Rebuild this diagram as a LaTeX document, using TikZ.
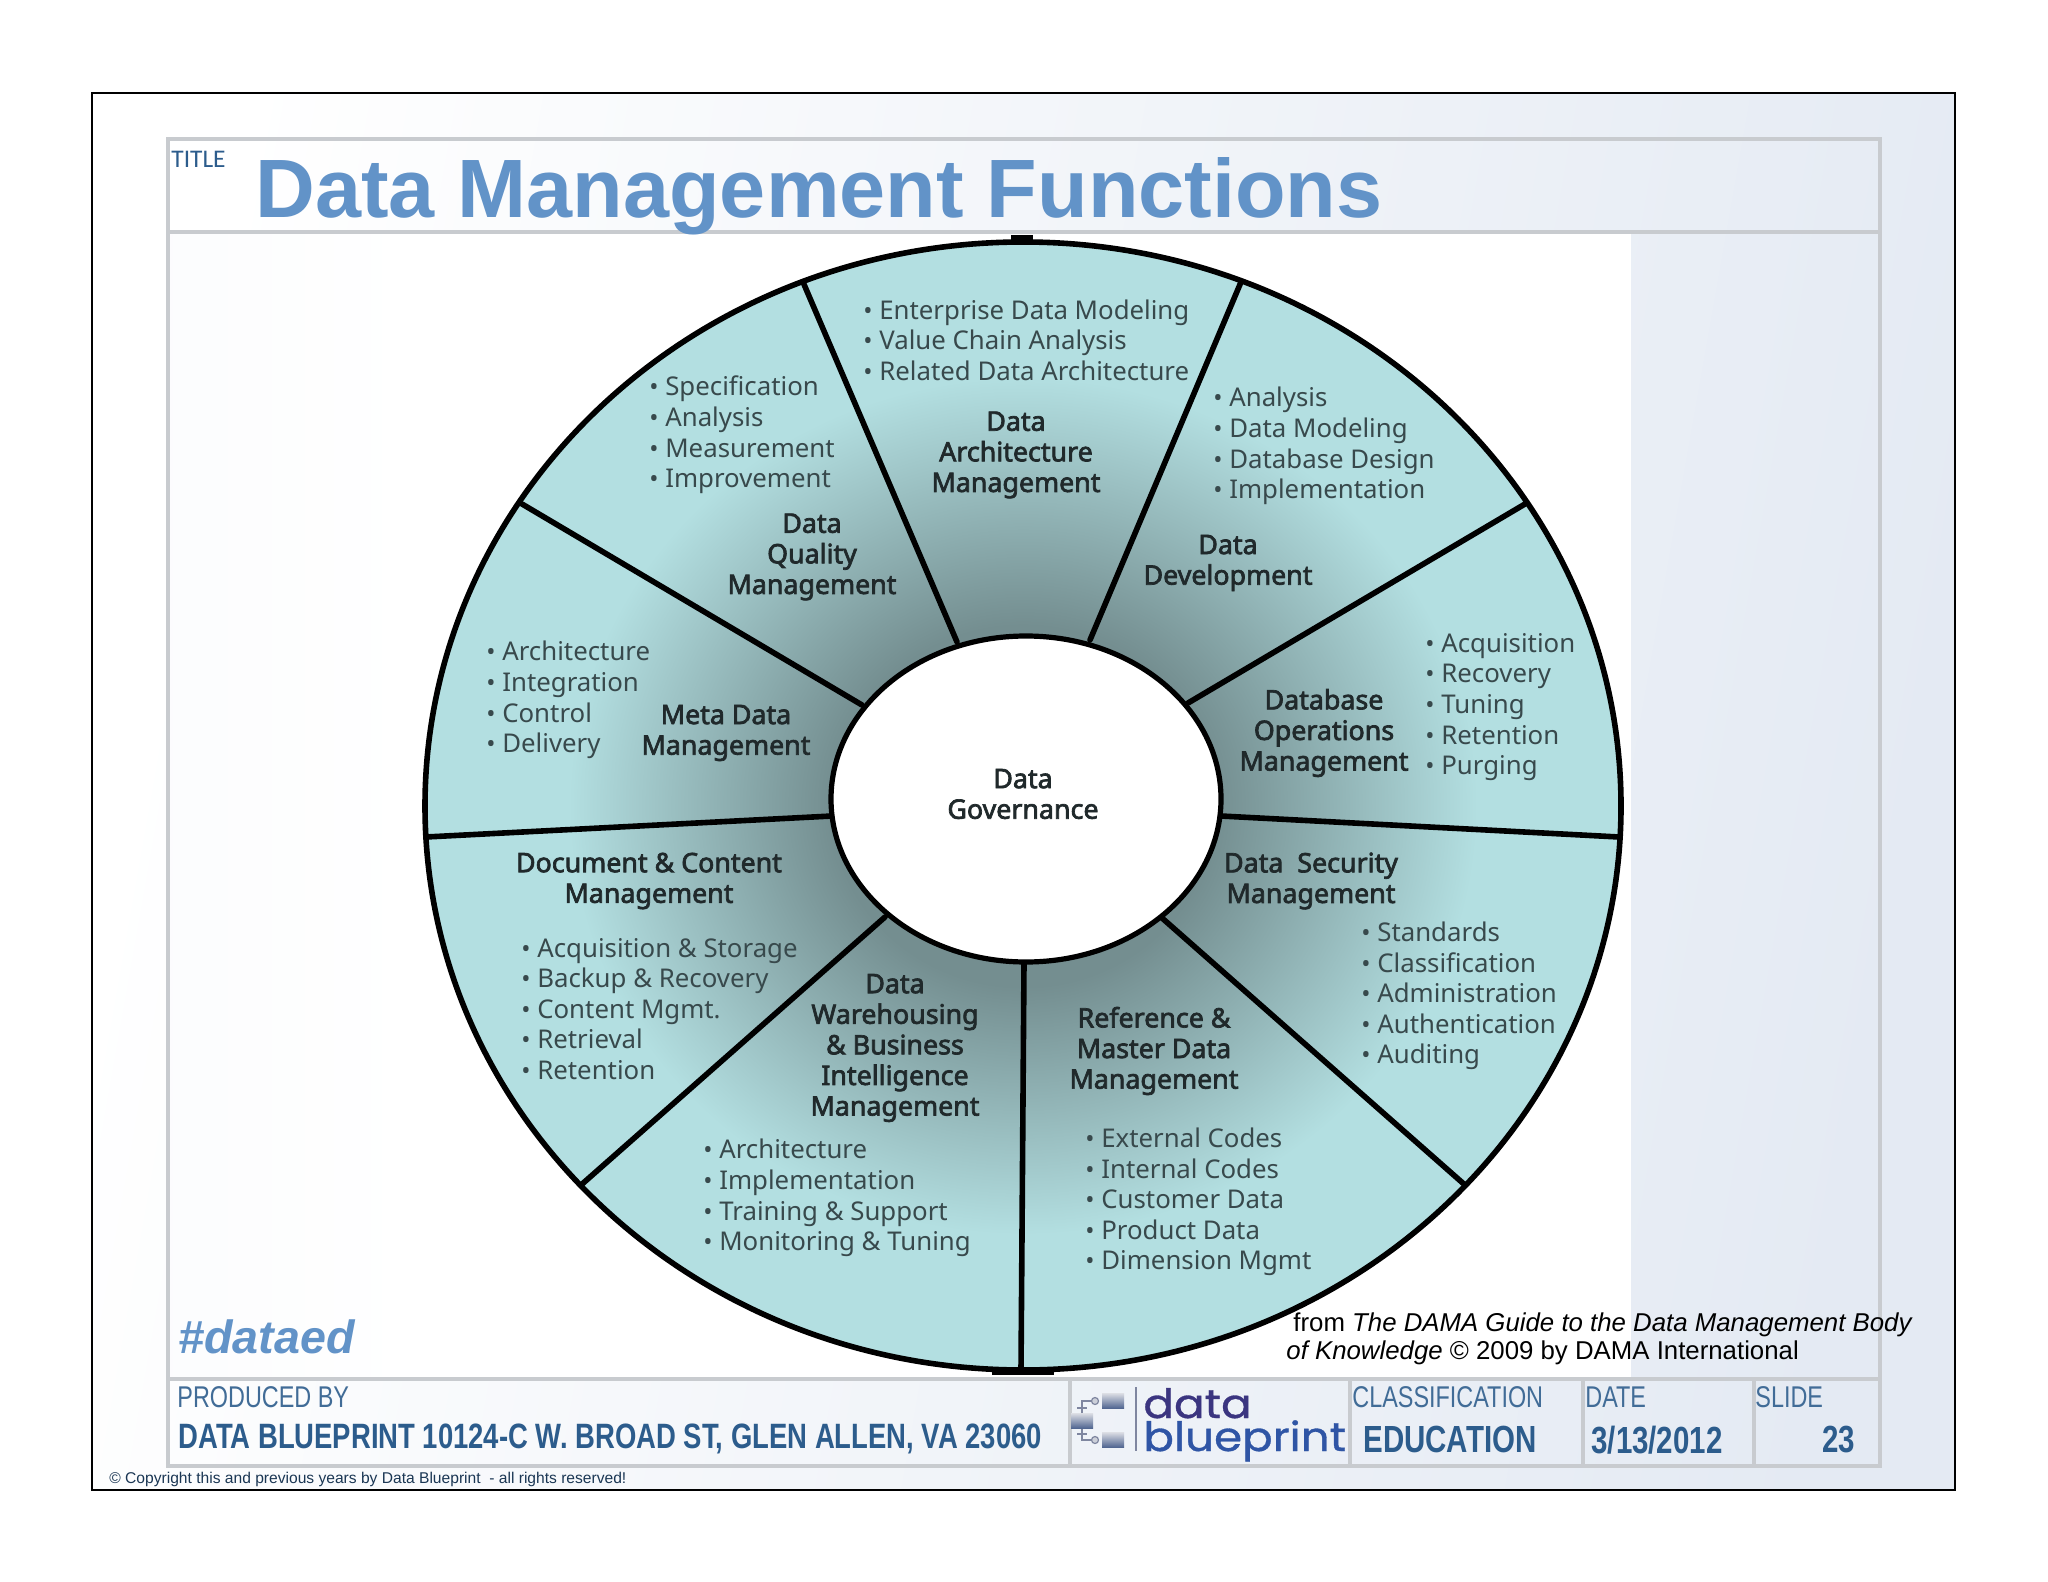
\documentclass[tikz,border=0pt]{standalone}
\usepackage{graphicx}
\usepackage{fontspec}
\setmainfont{Noto Sans}
\newfontfamily\headfont[FakeBold=2.6]{Noto Sans}
\newfontfamily\slidefont{Liberation Sans}
\newfontfamily\narrowfont[FakeStretch=0.78]{Liberation Sans}
\newfontfamily\titlefont{Carlito}
\newfontfamily\logofont[FakeBold=0.8,FakeStretch=1.12]{Poppins}
\usetikzlibrary{shapes, arrows.meta, positioning}
\definecolor{wheeldark}{HTML}{748E90}
\definecolor{wheellight}{HTML}{B3DFE1}
\definecolor{slideblue}{HTML}{6293C8}
\definecolor{footblue}{HTML}{2C5C8C}
\definecolor{framegray}{HTML}{C8CBCF}
\definecolor{panelblue}{HTML}{E4EAF3}
\definecolor{headtext}{HTML}{20292B}
\definecolor{listtext}{HTML}{38494C}
\definecolor{logopurple}{HTML}{3B3580}
\definecolor{logoblue}{HTML}{2F55A5}
\definecolor{logogray}{HTML}{7F86A0}
\pgfdeclareradialshading{wheelshade}{\pgfpoint{0bp}{0bp}}{color(0bp)=(wheeldark); color(8bp)=(wheeldark); color(19bp)=(wheellight); color(50bp)=(wheellight)}
\tikzstyle{wheelhead} = [font=\headfont\fontsize{13.4}{15.3}\selectfont, text=headtext, align=center, inner sep=0pt]
\tikzstyle{wheellist} = [font=\fontsize{12.9}{15.3}\selectfont, text=listtext, align=left, anchor=west, inner sep=0pt]
\tikzstyle{spoke} = [line width=2.8pt, line cap=round]
\tikzstyle{rule} = [draw=framegray, line width=2pt]
\tikzstyle{foothead} = [font=\narrowfont\fontsize{15}{17}\selectfont, text=footblue!90, anchor=base west, inner sep=0pt]
\tikzstyle{footval} = [font=\narrowfont\bfseries\fontsize{18.9}{21}\selectfont, text=footblue, anchor=base west, inner sep=0pt]
\tikzstyle{logobox} = [rectangle, minimum width=11pt, minimum height=7.5pt, inner sep=0pt, top color=logogray!30, bottom color=logoblue!70!black!80]
\tikzstyle{logoline} = [draw=logogray, line width=.7pt]
\tikzstyle{logoknob} = [circle, draw=logogray, fill=logogray!40, line width=.6pt, minimum size=3.5pt, inner sep=0pt]
\tikzstyle{logotick} = [draw=logogray, line width=.6pt]
\newcommand{\itm}[1]{\scalebox{.95}{\textbullet}~#1}

\begin{document}
\begin{tikzpicture}[x=.5pt,y=-.5pt]
  \useasboundingbox (0,0) rectangle (2048,1582);
  % slide background
  \shade[left color=white, right color=panelblue, shading angle=80] (92,93) rectangle (1955,1490);
  \fill[white] (168,232) rectangle (1631,1379);
  \shade[left color=panelblue!12, right color=white] (170,234) rectangle (420,1377);
  \draw[black, line width=1pt] (92,93) rectangle (1955,1490);
  % frame of the slide
  \draw[rule] (168,139) rectangle (1880,1466);
  \draw[rule] (168,232) -- (1880,232);
  \draw[rule] (168,1379) -- (1880,1379);
  \draw[rule] (1070,1379) -- (1070,1466);
  \draw[rule] (1350,1379) -- (1350,1466);
  \draw[rule] (1583,1379) -- (1583,1466);
  \draw[rule] (1754,1379) -- (1754,1466);
  % wheel
  \fill[black] (1011,235) rectangle (1033,250);
  \fill[black] (992,1360) rectangle (1054,1375);
  \draw[line width=2.8pt, shading=wheelshade] (1023,806) ellipse [x radius=598, y radius=564];
  \draw[spoke] (803,282) -- (957,642);
  \draw[spoke] (1241,282) -- (1090,640);
  \draw[spoke] (1525,504) -- (1188,703);
  \draw[spoke] (1619,837) -- (1221,816);
  \draw[spoke] (1465,1185) -- (1162,918);
  \draw[spoke] (1021,1369) -- (1024,962);
  \draw[spoke] (581,1185) -- (885,917);
  \draw[spoke] (426,837) -- (832,816);
  \draw[spoke] (522,504) -- (862,705);
  \draw[fill=white, line width=2.6pt] (1026,799) ellipse [x radius=195, y radius=163];
  % wheel labels
  \node[wheelhead] (governance) at (1023,794) {Data\\Governance};
  \node[wheelhead] (archhead) at (1016,455) {Data\\Architecture\\Management};
  \node[wheellist] (archlist) at (863,340) {\itm{Enterprise Data Modeling}\\\itm{Value Chain Analysis}\\\itm{Related Data Architecture}};
  \node[wheelhead] (devhead) at (1228,563) {Data\\Development};
  \node[wheellist] (devlist) at (1213,446) {\itm{Analysis}\\\itm{Data Modeling}\\\itm{Database Design}\\\itm{Implementation}};
  \node[wheelhead] (opshead) at (1324,733) {Database\\Operations\\Management};
  \node[wheellist] (opslist) at (1425,707) {\itm{Acquisition}\\\itm{Recovery}\\\itm{Tuning}\\\itm{Retention}\\\itm{Purging}};
  \node[wheelhead] (sechead) at (1311,881) {Data\ \ Security\\Management};
  \node[wheellist] (seclist) at (1361,996) {\itm{Standards}\\\itm{Classification}\\\itm{Administration}\\\itm{Authentication}\\\itm{Auditing}};
  \node[wheelhead] (refhead) at (1154,1051) {Reference \&\\Master Data\\Management};
  \node[wheellist] (reflist) at (1085,1202) {\itm{External Codes}\\\itm{Internal Codes}\\\itm{Customer Data}\\\itm{Product Data}\\\itm{Dimension Mgmt}};
  \node[wheelhead] (warehead) at (895,1048) {Data\\Warehousing\\\& Business\\Intelligence\\Management};
  \node[wheellist] (warelist) at (703,1198) {\itm{Architecture}\\\itm{Implementation}\\\itm{Training \& Support}\\\itm{Monitoring \& Tuning}};
  \node[wheelhead] (dochead) at (649,881) {Document \& Content\\Management};
  \node[wheellist] (doclist) at (521,1009) {\itm{Acquisition \& Storage}\\\itm{Backup \& Recovery}\\\itm{Content Mgmt.}\\\itm{Retrieval}\\\itm{Retention}};
  \node[wheelhead] (metahead) at (726,733) {Meta Data\\Management};
  \node[wheellist] (metalist) at (486,700) {\itm{Architecture}\\\itm{Integration}\\\itm{Control}\\\itm{Delivery}};
  \node[wheelhead] (qualhead) at (812,557) {Data\\Quality\\Management};
  \node[wheellist] (quallist) at (649,435) {\itm{Specification}\\\itm{Analysis}\\\itm{Measurement}\\\itm{Improvement}};
  % slide texts
  \node[anchor=base west, inner sep=0pt, font=\titlefont\fontsize{12.7}{14}\selectfont, text=footblue] (tag) at (171,168) {TITLE};
  \node[anchor=base west, inner sep=0pt, font=\slidefont\bfseries\fontsize{41.4}{45}\selectfont, text=slideblue] (title) at (255,218) {Data Management Functions};
  \node[anchor=base west, inner sep=0pt, font=\slidefont\bfseries\itshape\fontsize{23.3}{26}\selectfont, text=slideblue] (hashtag) at (178,1353) {\#dataed};
  \node[anchor=base west, inner sep=0pt, font=\slidefont\fontsize{12.9}{15}\selectfont] (source1) at (1293,1331) {from \textit{The DAMA Guide to the Data Management Body}};
  \node[anchor=base west, inner sep=0pt, font=\slidefont\fontsize{12.9}{15}\selectfont] (source2) at (1286,1359) {\textit{of Knowledge} © 2009 by DAMA International};
  \node[anchor=base west, inner sep=0pt, font=\slidefont\fontsize{7.8}{9}\selectfont, text=footblue!60!black] (copyright) at (109,1483) {© Copyright this and previous years by Data Blueprint\ \ - all rights reserved!};
  % footer
  \node[foothead] (producedby) at (177,1407) {PRODUCED BY};
  \node[footval, font=\narrowfont\bfseries\fontsize{17.6}{20}\selectfont] (address) at (178,1448) {DATA BLUEPRINT 10124-C W. BROAD ST, GLEN ALLEN, VA 23060};
  \node[foothead] (classification) at (1352,1407) {CLASSIFICATION};
  \node[footval] (education) at (1363,1452) {EDUCATION};
  \node[foothead] (datehead) at (1585,1407) {DATE};
  \node[footval] (dateval) at (1591,1453) {3/13/2012};
  \node[foothead] (slidehead) at (1755,1407) {SLIDE};
  \node[footval] (slideval) at (1822,1452) {23};
  % logo
  \node[logobox] (logotop) at (1113,1401) {};
  \node[logobox] (logomid) at (1082,1421) {};
  \node[logobox] (logobot) at (1113,1440) {};
  \node[logoknob] (knobtop) at (1095,1401) {};
  \node[logoknob] (knobbot) at (1095,1440) {};
  \draw[logoline] (logomid.north) |- (knobtop);
  \draw[logoline] (logomid.south) |- (knobbot);
  \draw[logotick] (1077,1408) -- (1087,1408);
  \draw[logotick] (1077,1434) -- (1087,1434);
  \coordinate (logoend1) at (1136,1387);
  \coordinate (logoend2) at (1136,1451);
  \draw[logoline] (logoend1) -- (logoend2);
  \node[anchor=base west, inner sep=0pt, font=\logofont\fontsize{20.2}{22}\selectfont, text=logopurple] (logodata) at (1143,1418) {data};
  \node[anchor=base west, inner sep=0pt, font=\logofont\fontsize{20.2}{22}\selectfont, text=logoblue] (logoblueprint) at (1143,1451) {blueprint};
\end{tikzpicture}
\end{document}
